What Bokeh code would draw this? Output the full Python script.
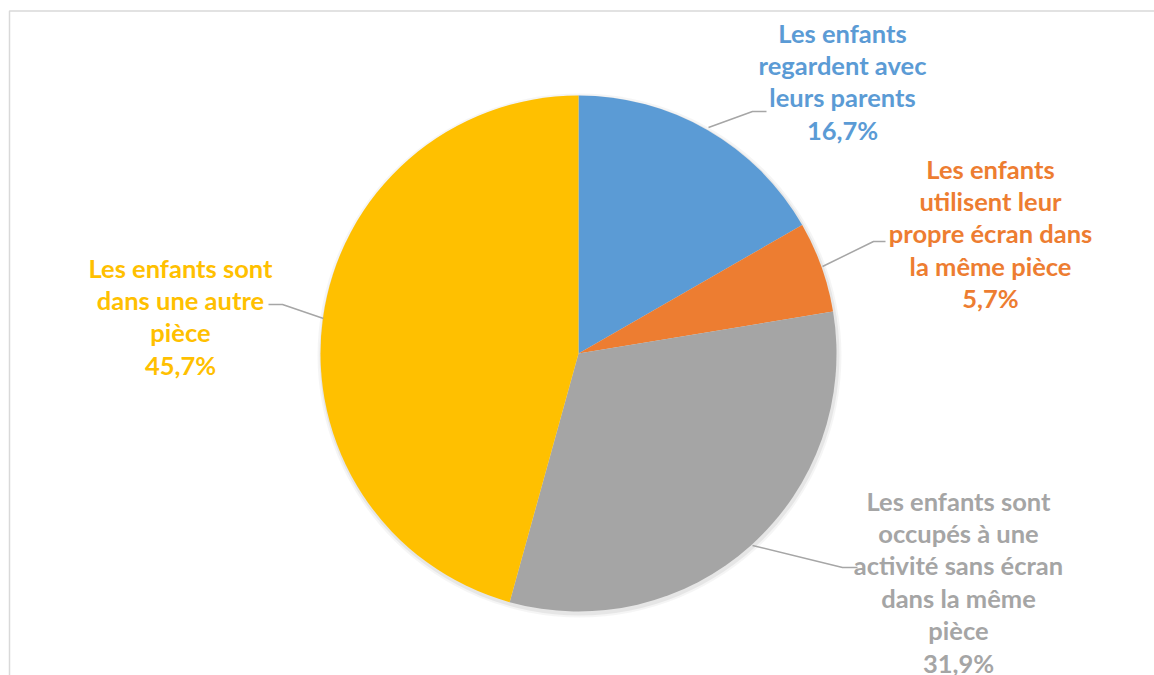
import math
from bokeh.plotting import figure
from bokeh.models import Range1d, ColumnDataSource
from bokeh.core.properties import value
from bokeh.embed import file_html
from bokeh.resources import INLINE

# ---- data ----
categories = [
    "Les enfants regardent avec leurs parents",
    "Les enfants utilisent leur propre écran dans la même pièce",
    "Les enfants sont occupés à une activité sans écran dans la même pièce",
    "Les enfants sont dans une autre pièce",
]
shares = [16.7, 5.7, 31.9, 45.7]
pct_labels = ["16,7%", "5,7%", "31,9%", "45,7%"]
label_lines = [
    ["Les enfants", "regardent avec", "leurs parents"],
    ["Les enfants", "utilisent leur", "propre écran dans", "la même pièce"],
    ["Les enfants sont", "occupés à une", "activité sans écran", "dans la même", "pièce"],
    ["Les enfants sont", "dans une autre", "pièce"],
]
colors = ["#5B9BD5", "#ED7D31", "#A5A5A5", "#FFC000"]

W, H = 1154, 675

def X(px):
    return px

def Y(py):
    return H - py

p = figure(width=W, height=H, output_backend="svg", toolbar_location=None,
           x_range=Range1d(0, W), y_range=Range1d(0, H), min_border=0)
p.axis.visible = False
p.grid.visible = False
p.outline_line_color = None
p.background_fill_color = "white"
p.border_fill_color = "white"

# chart-area border (top and left edges visible)
p.line([X(9), X(9), X(1160)], [Y(700), Y(10.5), Y(10.5)], line_color="#D9D9D9", line_width=1.5)

# pie
cx, cy, r = X(578), Y(353), 258
total = sum(shares)
starts, ends = [], []
cum = 0.0
for s in shares:
    starts.append(math.pi / 2 - 2 * math.pi * cum / total)
    cum += s
    ends.append(math.pi / 2 - 2 * math.pi * cum / total)

# soft shadow
for k, a in [(4, 0.04), (2, 0.06)]:
    p.circle(x=cx + 1, y=cy - 2, radius=r + k, radius_units="screen",
             fill_color="black", fill_alpha=a, line_color=None)

src = ColumnDataSource(dict(start=starts, end=ends, color=colors, cat=categories))
p.wedge(x=cx, y=cy, radius=r, radius_units="screen", start_angle="start", end_angle="end",
        direction="clock", fill_color="color", line_color=None, source=src)

# leader lines
leaders = [
    [(708, 127), (752, 111), (766, 111)],
    [(822, 266), (873, 241), (885, 241)],
    [(752, 545), (842, 567), (857, 567)],
    [(323, 318), (282, 304), (268, 304)],
]
for pts in leaders:
    p.line([X(a) for a, b in pts], [Y(b) for a, b in pts], line_color="#A6A6A6", line_width=1.5)

# labels
label_pos = [(842, 32), (990, 168), (958, 500), (180, 267)]
step = 32.4
for (lx, ly), lines, pct, col in zip(label_pos, label_lines, pct_labels, colors):
    all_lines = lines + [pct]
    xs = [X(lx)] * len(all_lines)
    ys = [Y(ly + i * step) for i in range(len(all_lines))]
    p.text(x=xs, y=ys, text=all_lines, text_align="center", text_baseline="middle",
           text_color=col, text_font=value("Lato"), text_font_style="bold",
           text_font_size=value("25.5px"))

open("out.html", "w").write(file_html(p, INLINE))
